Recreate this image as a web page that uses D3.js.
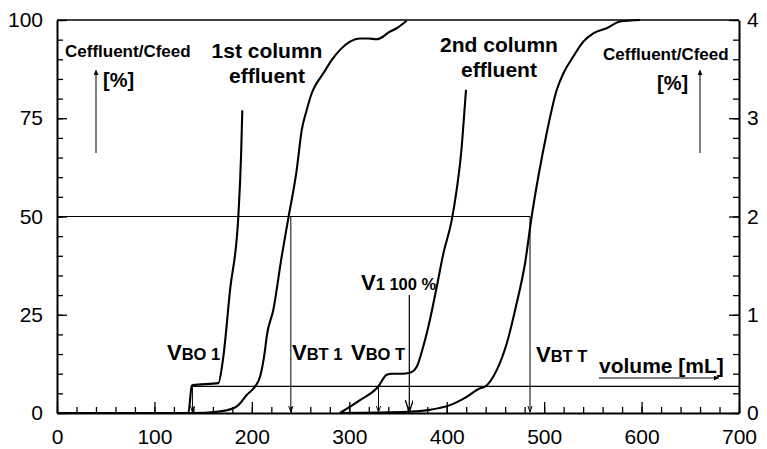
<!DOCTYPE html>
<html>
<head>
<meta charset="utf-8">
<script src="https://cdn.jsdelivr.net/npm/d3@7"></script>
<style>
  html, body { margin: 0; padding: 0; background: #fff; }
  svg { display: block; font-family: "Liberation Sans", Arial, Helvetica, sans-serif; }
</style>
</head>
<body>
<svg id="chart" width="767" height="449"></svg>
<script>
// ---------------- DATA ----------------
// x axis: volume [mL]
const xTicksMajor = [0, 100, 200, 300, 400, 500, 600, 700];
const leftTicks = [0, 25, 50, 75, 100];      // c_effluent/c_feed [%]
const rightTicks = [0, 1, 2, 3, 4];          // c_effluent/c_feed [%] (low range)

// 1st column effluent, low range (right axis, %)
const col1LowVol  = [0, 134.8, 138.3, 139.3, 165.6, 170.7, 177.6, 186.1, 188.9, 190.2];
const col1LowConc = [0, 0, 0.276, 0.284, 0.304, 0.572, 1.25, 2.0, 2.61, 3.08];

// 1st column effluent, full range (left axis, %)
const col1Vol  = [0, 139.9, 163.9, 181.0, 186.1, 194.7, 203.2, 208.4, 213.5, 215.2, 222.0, 230.6, 237.4, 246.0, 251.2, 256.3, 261.4, 266.5, 273.3, 281.9, 290.5, 300.7, 311.0, 319.5, 328.1, 334.9, 340.0, 348.7, 358.9];
const col1Conc = [0, 0, 0.3, 1.2, 2.0, 4.6, 6.7, 9.2, 16.0, 19.4, 26.2, 39.8, 49.5, 61.8, 72.0, 77.1, 81.3, 83.9, 86.4, 89.8, 92.4, 94.5, 95.3, 95.3, 95.1, 95.8, 96.8, 97.9, 99.8];

// 2nd column effluent, low range (right axis, %)
const col2LowVol  = [290.5, 311.0, 329.8, 338.4, 343.5, 353.8, 362.3, 369.2, 376.0, 382.8, 389.7, 396.5, 405.1, 410.2, 415.4, 418.0, 419.8];
const col2LowConc = [0, 0.13, 0.27, 0.39, 0.40, 0.40, 0.41, 0.47, 0.68, 0.95, 1.28, 1.62, 1.96, 2.27, 2.71, 3.05, 3.29];

// 2nd column effluent, full range (left axis, %)
const col2Vol  = [290.5, 360.6, 382.8, 403.4, 420.5, 434.2, 439.3, 451.3, 461.6, 471.8, 480.4, 487.2, 494.0, 502.6, 512.9, 519.7, 529.9, 540.2, 550.5, 564.2, 577.9, 598.4];
const col2Conc = [0, 0.3, 0.8, 2.0, 4.1, 6.3, 6.7, 10.9, 17.7, 27.9, 38.1, 50.0, 60.1, 71.2, 82.2, 86.4, 90.7, 94.5, 96.6, 97.9, 99.6, 100];

// characteristic volumes
const thresholdLow = 0.27;   // right-axis level of breakthrough line
const halfLevel = 50;        // left-axis 50 % line
const vBO1 = 139, vBT1 = 240, vBOT = 330, v1_100 = 361.6, vBTT = 485.5;
const v1_100Top = 30;        // top of V1 100% arrow (left-axis units)

// ---------------- CHART ----------------
const svg = d3.select("#chart");
const X0 = 57, X1 = 739, Y0 = 413, Y1 = 20;
const x = d3.scaleLinear().domain([0, 700]).range([X0, X1]);
const yL = d3.scaleLinear().domain([0, 100]).range([Y0, Y1]);
const yR = d3.scaleLinear().domain([0, 4]).range([Y0, Y1]);

// arrow markers
const defs = svg.append("defs");
defs.append("marker").attr("id", "arrSmall")
  .attr("viewBox", "0 0 10 10").attr("refX", 10).attr("refY", 5)
  .attr("markerWidth", 6).attr("markerHeight", 6).attr("markerUnits", "userSpaceOnUse")
  .attr("orient", "auto")
  .append("path").attr("d", "M0,1.5 L10,5 L0,8.5").attr("fill", "none").attr("stroke", "#000").attr("stroke-width", 1.6);
defs.append("marker").attr("id", "arrBig")
  .attr("viewBox", "0 0 12 8").attr("refX", 12).attr("refY", 4)
  .attr("markerWidth", 12).attr("markerHeight", 8).attr("markerUnits", "userSpaceOnUse")
  .attr("orient", "auto")
  .append("path").attr("d", "M0,0 L12,4 L0,8").attr("fill", "none").attr("stroke", "#000").attr("stroke-width", 1.3);
defs.append("marker").attr("id", "arrLbl")
  .attr("viewBox", "0 0 10 10").attr("refX", 10).attr("refY", 5)
  .attr("markerWidth", 6).attr("markerHeight", 5).attr("markerUnits", "userSpaceOnUse")
  .attr("orient", "auto")
  .append("path").attr("d", "M0,0 L10,5 L0,10 Z").attr("fill", "#000");

// frame: top line
svg.append("line").attr("x1", X0).attr("x2", X1).attr("y1", Y1).attr("y2", Y1)
  .attr("stroke", "#000").attr("stroke-width", 1.5);

// axes
const minorLeft = d3.range(0, 100.01, 5);
const minorRight = d3.range(0, 4.001, 0.2);
const minorX = d3.range(0, 700.01, 20);

const gL = svg.append("g").attr("transform", `translate(${X0},0)`);
gL.call(d3.axisRight(yL).tickValues(minorLeft).tickSize(6).tickFormat(""));
gL.call(g => g.select(".domain").remove());
const gL2 = svg.append("g").attr("transform", `translate(${X0},0)`);
gL2.call(d3.axisRight(yL).tickValues(leftTicks).tickSize(10).tickFormat(""));
gL2.select(".domain").remove();
svg.append("g").attr("transform", `translate(${X0},0)`)
  .call(d3.axisLeft(yL).tickValues(leftTicks).tickSize(0).tickPadding(14).tickFormat(d3.format("d")))
  .call(g => g.select(".domain").attr("stroke-width", 2));

const gR = svg.append("g").attr("transform", `translate(${X1},0)`);
gR.call(d3.axisLeft(yR).tickValues(minorRight).tickSize(6).tickFormat(""));
gR.select(".domain").remove();
const gR2 = svg.append("g").attr("transform", `translate(${X1},0)`);
gR2.call(d3.axisLeft(yR).tickValues(rightTicks).tickSize(10).tickFormat(""));
gR2.select(".domain").remove();
svg.append("g").attr("transform", `translate(${X1},0)`)
  .call(d3.axisRight(yR).tickValues(rightTicks).tickSize(0).tickPadding(8).tickFormat(d3.format("d")))
  .call(g => g.select(".domain").attr("stroke-width", 2));

const gB = svg.append("g").attr("transform", `translate(0,${Y0})`);
gB.call(d3.axisTop(x).tickValues(minorX).tickSize(6).tickFormat(""));
gB.select(".domain").remove();
const gB2 = svg.append("g").attr("transform", `translate(0,${Y0})`);
gB2.call(d3.axisTop(x).tickValues(xTicksMajor).tickSize(11).tickFormat(""));
gB2.select(".domain").remove();
svg.append("g").attr("transform", `translate(0,${Y0})`)
  .call(d3.axisBottom(x).tickValues(xTicksMajor).tickSize(0).tickPadding(16).tickFormat(d3.format("d")))
  .call(g => g.select(".domain").attr("stroke-width", 2.2));

svg.selectAll(".tick line").attr("stroke", "#000").attr("stroke-width", 1.3);
svg.selectAll(".tick text").attr("font-size", 21).attr("fill", "#000")
  .attr("font-family", "Liberation Sans, Arial, sans-serif");

// reference lines
svg.append("line").attr("x1", x(0)).attr("x2", x(vBTT))
  .attr("y1", yL(halfLevel)).attr("y2", yL(halfLevel))
  .attr("stroke", "#000").attr("stroke-width", 1.2);
svg.append("line").attr("x1", x(vBO1)).attr("x2", x(700))
  .attr("y1", yR(thresholdLow)).attr("y2", yR(thresholdLow))
  .attr("stroke", "#000").attr("stroke-width", 1.2);

// vertical arrows for characteristic volumes
function vArrow(v, yTop, marker, sw) {
  svg.append("line").attr("x1", x(v)).attr("x2", x(v))
    .attr("y1", yTop).attr("y2", Y0 - 1)
    .attr("stroke", "#000").attr("stroke-width", sw)
    .attr("marker-end", `url(#${marker})`);
}
vArrow(vBO1, yR(thresholdLow), "arrSmall", 1);
vArrow(vBT1, yL(halfLevel), "arrSmall", 1);
vArrow(vBOT, yR(thresholdLow), "arrSmall", 1);
vArrow(vBTT, yL(halfLevel), "arrSmall", 1);
vArrow(v1_100, yL(v1_100Top), "arrBig", 1.2);

// curves
function drawCurve(vols, concs, yScale) {
  const pts = vols.map((v, i) => [v, concs[i]]);
  svg.append("path").datum(pts)
    .attr("fill", "none").attr("stroke", "#000").attr("stroke-width", 2.1)
    .attr("stroke-linejoin", "round")
    .attr("d", d3.line().x(d => x(d[0])).y(d => yScale(d[1])).curve(d3.curveMonotoneX));
}
drawCurve(col1LowVol, col1LowConc, yR);
drawCurve(col1Vol, col1Conc, yL);
drawCurve(col2LowVol, col2LowConc, yR);
drawCurve(col2Vol, col2Conc, yL);

// ---------------- TEXT ----------------
function boldText(txt, px, py, size, anchor) {
  return svg.append("text").attr("x", px).attr("y", py)
    .attr("font-size", size).attr("font-weight", "bold")
    .attr("text-anchor", anchor || "start").attr("fill", "#000").text(txt);
}
// axis titles
boldText("Ceffluent/Cfeed", 65, 57, 17);
boldText("[%]", 103, 87, 20);
boldText("Ceffluent/Cfeed", 603, 60, 17);
boldText("[%]", 657, 90, 20);
// label arrows
svg.append("line").attr("x1", 96).attr("x2", 96).attr("y1", 153).attr("y2", 70)
  .attr("stroke", "#000").attr("stroke-width", 1).attr("marker-end", "url(#arrLbl)");
svg.append("line").attr("x1", 700).attr("x2", 700).attr("y1", 153).attr("y2", 70)
  .attr("stroke", "#000").attr("stroke-width", 1).attr("marker-end", "url(#arrLbl)");

boldText("volume [mL]", 599, 373, 21);
svg.append("line").attr("x1", 599).attr("x2", 719).attr("y1", 378).attr("y2", 378)
  .attr("stroke", "#000").attr("stroke-width", 1).attr("marker-end", "url(#arrLbl)");

// curve labels
boldText("1st column", 267, 58, 21, "middle");
boldText("effluent", 267, 83, 21, "middle");
boldText("2nd column", 499, 52, 21, "middle");
boldText("effluent", 499, 77, 21, "middle");

// V labels
function vLabel(sub, px, py) {
  const t = svg.append("text").attr("x", px).attr("y", py)
    .attr("font-weight", "bold").attr("fill", "#000");
  t.append("tspan").attr("font-size", 22).text("V");
  t.append("tspan").attr("font-size", 16.5).text(sub);
}
vLabel("BO 1", 167, 360);
vLabel("BT 1", 292, 360);
vLabel("BO T", 351, 360);
vLabel("1 100 %", 361, 290);
vLabel("BT T", 536, 362);
</script>
</body>
</html>
